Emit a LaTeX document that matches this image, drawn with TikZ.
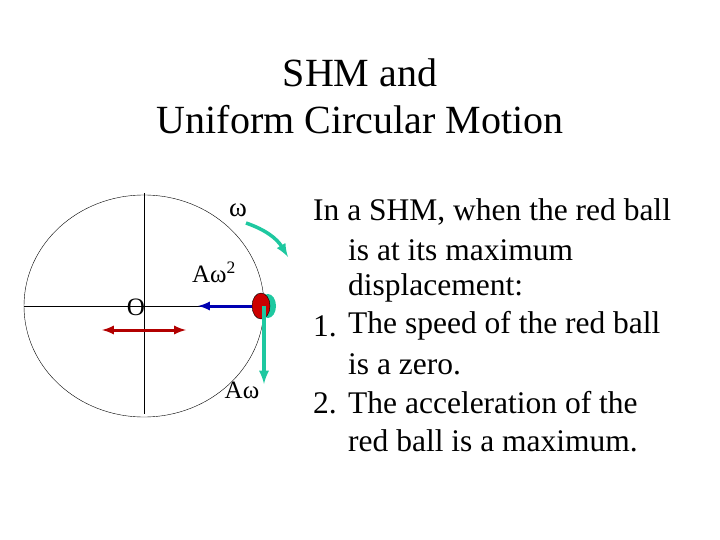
\documentclass[tikz,border=0pt]{standalone}
\usepackage{fontspec}
\setmainfont{Liberation Serif}
\definecolor{tq}{RGB}{30,200,160}
\begin{document}
\begin{tikzpicture}[x=1pt,y=-1pt,
  lbl/.style={inner sep=0pt,font=\fontsize{25}{27}\selectfont},
  body/.style={inner sep=0pt,anchor=west,font=\fontsize{31.5}{34}\selectfont},
  grn/.style={draw=tq,line width=3.5pt,-latex}]
\useasboundingbox (0,0) rectangle (720,540);
\node[inner sep=0pt,align=center,font=\fontsize{40}{47}\selectfont] (title) at (360,96) {SHM and\\Uniform Circular Motion};
\coordinate (c) at (144,306);
\draw[thin] (c) ellipse [x radius=120, y radius=111];
\draw[thin] (24,306) -- (264,306);
\draw[thin] (144,193) -- (144,414);
\node[lbl] (o) at (136,307) {O};
\fill[tq] (268,306) ellipse [x radius=8, y radius=12];
\draw[fill=red!80!black] (261,306) ellipse [x radius=9, y radius=13];
\draw[line width=3pt,blue!70!black,-latex] (252,306) -- (198,306);
\draw[grn] (264,306) -- (264,384);
\coordinate (a1) at (246,223); \coordinate (a2) at (288,257);
\draw[grn] (a1) to[bend left=20] (a2);
\draw[line width=3pt,red!70!black,latex-latex] (102,330) -- (186,330);
\node[lbl,font=\fontsize{27}{29}\selectfont] (w) at (238,210) {ω};
\node[lbl] (aw2) at (214,272) {Aω\textsuperscript{2}};
\node[lbl] (aw) at (242,390) {Aω};
\node[body] (t1) at (313,212) {In a SHM, when the red ball};
\node[body] (t2) at (348,250) {is at its maximum};
\node[body] (t3) at (348,288) {displacement:};
\node[body] (n1) at (313,326) {1.};
\node[body] (t4) at (348,326) {The speed of the red ball};
\node[body] (t5) at (348,364) {is a zero.};
\node[body] (n2) at (313,403) {2.};
\node[body] (t6) at (348,403) {The acceleration of the};
\node[body] (t7) at (348,441) {red ball is a maximum.};
\end{tikzpicture}
\end{document}
